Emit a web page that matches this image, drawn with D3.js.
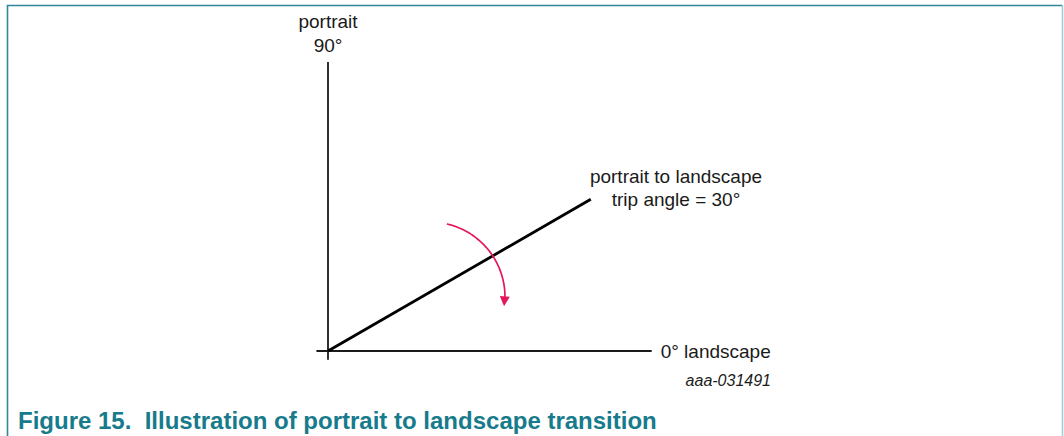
<!DOCTYPE html>
<html>
<head>
<meta charset="utf-8">
<script src="https://cdn.jsdelivr.net/npm/d3@7"></script>
<style>
  body { margin: 0; background: #fff; }
  svg text { font-family: "Liberation Sans", Arial, sans-serif; white-space: pre; }
</style>
</head>
<body>
<div id="chart"></div>
<script>
var width = 1064,
    height = 436;

// diagram data
var axisAngles = [90, 0];                 // degrees
var axisLengths = [1.0, 1.12];            // relative to unit radius
var axisTails = [0.03, 0.04];             // overshoot past origin
var tripAngle = 30;
var tripLength = 1.05;
var arcAngles = [77, 2];                  // sweep of the rotation arrow (deg, around its own centre)
var portraitLabel = ["portrait", "90°"];
var tripLabel = ["portrait to landscape", "trip angle = 30°"];
var landscapeLabel = "0° landscape";
var figId = "aaa-031491";
var caption = "Figure 15.  Illustration of portrait to landscape transition";

var origin = [328, 351];

// unit radius -> pixels
var r = d3.scaleLinear().domain([0, 1]).range([0, 289]);
var rad = function(deg) { return deg * Math.PI / 180; };
var px = function(a, len) { return origin[0] + r(len) * Math.cos(rad(a)); };
var py = function(a, len) { return origin[1] - r(len) * Math.sin(rad(a)); };

var svg = d3.select("#chart").append("svg")
    .attr("width", width)
    .attr("height", height);

// frame
svg.append("path")
    .attr("d", "M7.5,436 V5.5 H1062")
    .attr("fill", "none")
    .attr("stroke", "#2f8797")
    .attr("stroke-width", 1.6);
svg.append("line")
    .attr("x1", 1062.5).attr("x2", 1062.5)
    .attr("y1", 5).attr("y2", 436)
    .attr("stroke", "#9fcbd3")
    .attr("stroke-width", 1.5);

// axes
svg.selectAll(".axis")
    .data(axisAngles)
  .enter().append("line")
    .attr("class", "axis")
    .attr("x1", function(d, i) { return px(d + 180, axisTails[i]); })
    .attr("y1", function(d, i) { return py(d + 180, axisTails[i]); })
    .attr("x2", function(d, i) { return px(d, axisLengths[i]); })
    .attr("y2", function(d, i) { return py(d, axisLengths[i]); })
    .attr("stroke", "#1a1a1a")
    .attr("stroke-width", 1.8);

// trip angle line
svg.append("line")
    .attr("x1", origin[0]).attr("y1", origin[1])
    .attr("x2", px(tripAngle, tripLength))
    .attr("y2", py(tripAngle, tripLength))
    .attr("stroke", "#000")
    .attr("stroke-width", 2.8);

// rotation arrow
var arcCentre = [430, 297], arcR = 75;
svg.append("defs").append("marker")
    .attr("id", "head")
    .attr("viewBox", "0 0 10 10")
    .attr("refX", 2).attr("refY", 5)
    .attr("markerWidth", 12).attr("markerHeight", 10)
    .attr("markerUnits", "userSpaceOnUse")
    .attr("orient", "auto")
  .append("path")
    .attr("d", "M0,0 L10,5 L0,10 Z")
    .attr("fill", "#e4175a");

var arcPts = d3.range(arcAngles[0], arcAngles[1] - 0.1, -1).map(function(a) {
  return [arcCentre[0] + arcR * Math.cos(rad(a)), arcCentre[1] - arcR * Math.sin(rad(a))];
});
var lastPt = arcPts[arcPts.length - 1];
arcPts.push([lastPt[0] - 0.3, lastPt[1] + 4]);
svg.append("path")
    .attr("d", d3.line().curve(d3.curveBasis)(arcPts))
    .attr("fill", "none")
    .attr("stroke", "#e4175a")
    .attr("stroke-width", 1.7)
    .attr("marker-end", "url(#head)");

// labels
var topLabel = svg.append("text")
    .attr("text-anchor", "middle")
    .attr("font-size", 19)
    .attr("fill", "#1a1a1a");
topLabel.selectAll("tspan")
    .data(portraitLabel)
  .enter().append("tspan")
    .attr("x", origin[0])
    .attr("y", function(d, i) { return 28 + i * 24; })
    .text(function(d) { return d; });

var tripText = svg.append("text")
    .attr("text-anchor", "middle")
    .attr("font-size", 19)
    .attr("fill", "#1a1a1a");
tripText.selectAll("tspan")
    .data(tripLabel)
  .enter().append("tspan")
    .attr("x", 676)
    .attr("y", function(d, i) { return 183 + i * 23; })
    .text(function(d) { return d; });

svg.append("text")
    .attr("x", px(0, axisLengths[1]) + 9)
    .attr("y", 358)
    .attr("font-size", 19)
    .attr("fill", "#1a1a1a")
    .text(landscapeLabel);

svg.append("text")
    .attr("x", 771)
    .attr("y", 386)
    .attr("text-anchor", "end")
    .attr("font-size", 16)
    .attr("font-style", "italic")
    .attr("fill", "#1a1a1a")
    .text(figId);

svg.append("text")
    .attr("x", 18)
    .attr("y", 429)
    .attr("font-size", 24)
    .attr("font-weight", "bold")
    .attr("fill", "#177b8b")
    .text(caption);
</script>
</body>
</html>
